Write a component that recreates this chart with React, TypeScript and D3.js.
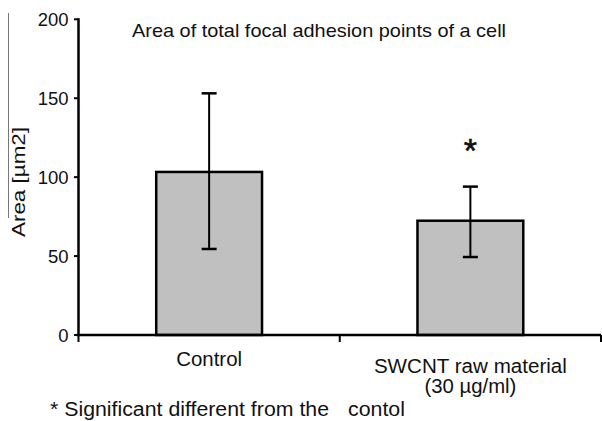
import React, { useEffect, useRef } from 'react';
import * as d3 from 'd3';

const categories = ['Control', 'SWCNT raw material'];
const subLabels = ['', '(30 µg/ml)'];
const means = [103.3, 72.4];
const errHigh = [153.1, 94.0];
const errLow = [54.5, 49.4];
const significant = [false, true];
const yTicks = [0, 50, 100, 150, 200];

const W = 602;
const H = 421;
const FONT = '"Liberation Sans", Arial, sans-serif';

export default function App() {
  const svgRef = useRef<SVGSVGElement>(null);

  useEffect(() => {
    const svg = d3.select(svgRef.current);
    svg.selectAll('*').remove();

    const left = 78.5;
    const right = 601;
    const y = d3.scaleLinear().domain([0, 200]).range([335, 19.3]);
    const x = d3.scaleBand<string>().domain(categories).range([left, right]).padding(0);
    const barW = x.bandwidth() * 0.405;

    // text helper, widths stretched to match the source figure
    const label = (tx: number, ty: number, str: string, size: number, len?: number, anchor = 'start') => {
      const t = svg.append('text').attr('x', tx).attr('y', ty).attr('text-anchor', anchor)
        .attr('font-family', FONT).attr('font-size', size).attr('fill', '#111').text(str);
      if (len) t.attr('textLength', len).attr('lengthAdjust', 'spacingAndGlyphs');
      return t;
    };

    label(132, 37, 'Area of total focal adhesion points of a cell', 19, 374);

    // y label + odd vertical line left of it
    svg.append('line').attr('x1', 8.5).attr('x2', 8.5).attr('y1', 13).attr('y2', 218)
      .attr('stroke', '#777').attr('stroke-width', 1);
    svg.append('text').attr('transform', 'translate(25,182) rotate(-90)')
      .attr('text-anchor', 'middle').attr('font-family', FONT).attr('font-size', 18.5).attr('fill', '#111')
      .attr('textLength', 110).attr('lengthAdjust', 'spacingAndGlyphs')
      .text('Area [µm2]');

    // bars
    const g = svg.append('g');
    g.selectAll('rect.bar').data(categories).join('rect').attr('class', 'bar')
      .attr('x', d => x(d)! + x.bandwidth() / 2 - barW / 2)
      .attr('width', barW)
      .attr('y', (d, i) => y(means[i]))
      .attr('height', (d, i) => y(0) - y(means[i]))
      .attr('fill', '#c0c0c0').attr('stroke', '#000').attr('stroke-width', 2.5);

    // error bars
    categories.forEach((c, i) => {
      const cx = x(c)! + x.bandwidth() / 2;
      g.append('line').attr('x1', cx).attr('x2', cx).attr('y1', y(errHigh[i])).attr('y2', y(errLow[i]))
        .attr('stroke', '#000').attr('stroke-width', 2);
      [errHigh[i], errLow[i]].forEach(v => {
        g.append('line').attr('x1', cx - 7.5).attr('x2', cx + 7.5).attr('y1', y(v)).attr('y2', y(v))
          .attr('stroke', '#000').attr('stroke-width', 2.5);
      });
      if (significant[i]) {
        g.append('text').attr('x', cx).attr('y', 162).attr('text-anchor', 'middle')
          .attr('font-family', FONT).attr('font-size', 34).attr('fill', '#111')
          .attr('stroke', '#111').attr('stroke-width', 0.6).text('*');
      }
    });

    // y axis
    const ya = svg.append('g');
    ya.append('line').attr('x1', left).attr('x2', left).attr('y1', y(200) - 1).attr('y2', y(0))
      .attr('stroke', '#000').attr('stroke-width', 2.5);
    yTicks.forEach(t => {
      ya.append('line').attr('x1', left - 4.5).attr('x2', left).attr('y1', y(t)).attr('y2', y(t))
        .attr('stroke', '#000').attr('stroke-width', 2);
      ya.append('text').attr('x', 68.5).attr('y', y(t)).attr('dy', '0.36em').attr('text-anchor', 'end')
        .attr('font-family', FONT).attr('font-size', 18.5).attr('fill', '#111').text(t);
    });

    // x axis
    svg.append('line').attr('x1', left - 2).attr('x2', right).attr('y1', y(0)).attr('y2', y(0))
      .attr('stroke', '#000').attr('stroke-width', 2.5);
    const bounds = [...categories.map(c => x(c)!), right];
    bounds.forEach(b => {
      svg.append('line').attr('x1', b).attr('x2', b).attr('y1', y(0)).attr('y2', y(0) + 7)
        .attr('stroke', '#000').attr('stroke-width', 2);
    });

    // category labels
    const catLen = [66, 193];
    categories.forEach((c, i) => {
      const cx = x(c)! + x.bandwidth() / 2;
      const twoLine = subLabels[i] !== '';
      label(cx, twoLine ? 373 : 366, c, 19.5, catLen[i], 'middle');
      if (twoLine) label(cx, 393, subLabels[i], 19.5, 92, 'middle');
    });

    // footnote
    label(50, 416, '* Significant different from the', 19.5, 279);
    label(348, 416, 'contol', 19.5, 57);
  }, []);

  return (
    <svg ref={svgRef} width={W} height={H}
      style={{ position: 'absolute', left: 0, top: 0, background: '#fff' }} />
  );
}
